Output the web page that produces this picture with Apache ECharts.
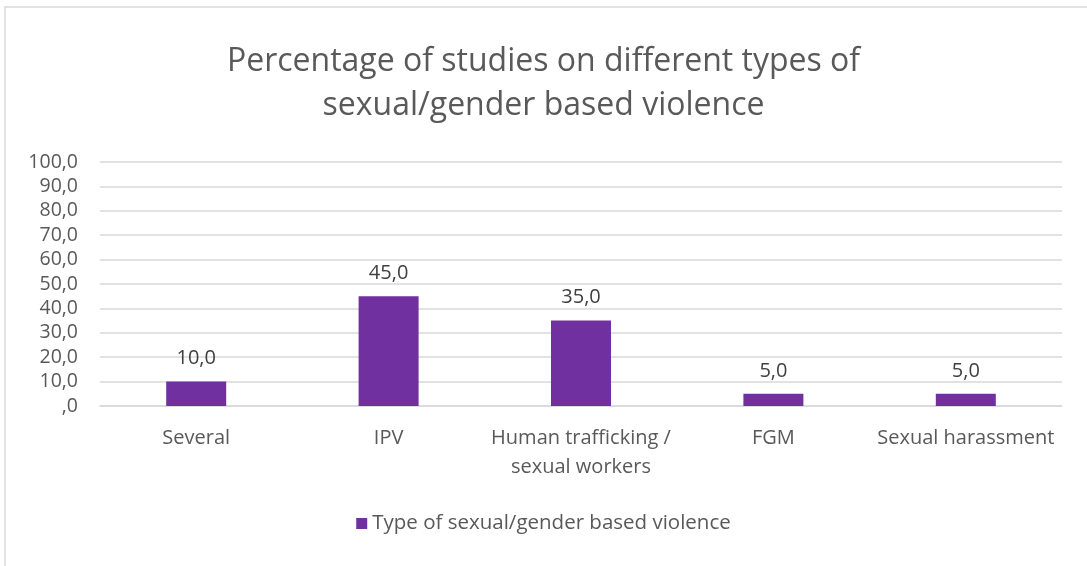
<!DOCTYPE html>
<html><head><meta charset="utf-8">
<script src="https://cdn.jsdelivr.net/npm/echarts@6/dist/echarts.min.js"></script>
<style>html,body{margin:0;padding:0;background:#fff}#c{width:1087px;height:566px}</style>
</head><body><div id="c"></div>
<script>
const categories = ['Several', 'IPV', 'Human trafficking /\nsexual workers', 'FGM', 'Sexual harassment'];
const values = [10.0, 45.0, 35.0, 5.0, 5.0];
const seriesName = 'Type of sexual/gender based violence';
const titleText = 'Percentage of studies on different types of\nsexual/gender based violence';

const fmt = v => { const s = Number(v).toFixed(1).replace('.', ','); return s.startsWith('0,') ? s.slice(1) : s; };
const FONT = 'Open Sans';
const chart = echarts.init(document.getElementById('c'));
chart.setOption({
  animation: false,
  textStyle: { fontFamily: FONT },
  graphic: [{ type: 'rect', shape: { x: 5, y: 7, width: 1100, height: 600 }, style: { fill: 'none', stroke: '#d9d9d9', lineWidth: 1.5 }, silent: true }],
  title: { text: titleText, left: 'center', top: 35, textStyle: { fontFamily: FONT, fontSize: 32, fontWeight: 'normal', color: '#595959', lineHeight: 44 } },
  legend: { bottom: 27, left: 'center', itemWidth: 11, itemHeight: 11, icon: 'rect', itemGap: 6, textStyle: { fontFamily: FONT, fontSize: 20.5, color: '#595959' }, data: [seriesName] },
  grid: { left: 100, right: 25, top: 162, bottom: 160, containLabel: false },
  xAxis: { type: 'category', data: categories,
    axisLine: { lineStyle: { color: '#d9d9d9', width: 1.5 } }, axisTick: { show: false },
    axisLabel: { fontFamily: FONT, fontSize: 20, color: '#595959', margin: 18, lineHeight: 29, interval: 0 } },
  yAxis: { type: 'value', min: 0, max: 100, interval: 10,
    axisLine: { show: false }, axisTick: { show: false },
    splitLine: { lineStyle: { color: '#d9d9d9', width: 1.5 } },
    axisLabel: { fontFamily: FONT, fontSize: 19.5, color: '#595959', margin: 22, formatter: fmt } },
  series: [{ name: seriesName, type: 'bar', data: values, barWidth: 60, itemStyle: { color: '#7030a0' },
    label: { show: true, position: 'top', distance: 13, fontFamily: FONT, fontSize: 20, color: '#404040', formatter: p => fmt(p.value) } }]
});
</script></body></html>
